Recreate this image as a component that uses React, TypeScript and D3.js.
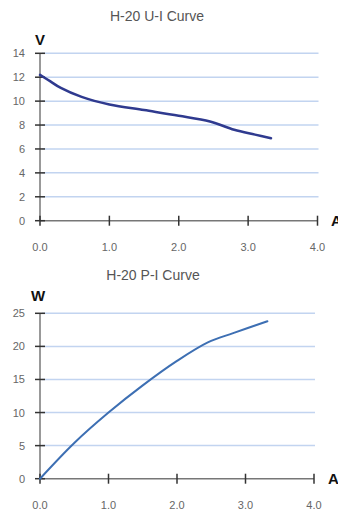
import React from "react";
import * as d3 from "d3";

const currentA = [0, 0.15, 0.3, 0.6, 1.0, 1.5, 2.0, 2.45, 2.8, 3.1, 3.33];
const voltageV = [12.2, 11.65, 11.1, 10.35, 9.72, 9.25, 8.78, 8.3, 7.6, 7.2, 6.9];

const powerCurrentA = [0, 0.5, 1.0, 1.5, 2.0, 2.45, 2.82, 3.32];
const powerW = [0, 5.4, 10.0, 14.1, 17.8, 20.6, 22.0, 23.8];

const xTicks = [0, 1, 2, 3, 4];
const uTicks = [0, 2, 4, 6, 8, 10, 12, 14];
const pTicks = [0, 5, 10, 15, 20, 25];

type PanelProps = {
  title: string;
  titleX: number;
  titleY: number;
  yLabel: string;
  yLabelX: number;
  yLabelY: number;
  aX: number;
  xs: number[];
  ys: number[];
  yMax: number;
  yTicks: number[];
  x0: number;
  x1: number;
  y0: number;
  y1: number;
  color: string;
  width: number;
};

function Panel(p: PanelProps) {
  const x = d3.scaleLinear().domain([0, 4]).range([p.x0, p.x1]);
  const y = d3.scaleLinear().domain([0, p.yMax]).range([p.y0, p.y1]);
  const line = d3
    .line<number>()
    .x((_, i) => x(p.xs[i]))
    .y((d) => y(d))
    .curve(d3.curveCatmullRom.alpha(0.5));
  const font = "Liberation Sans, Arial, sans-serif";
  return (
    <g>
      <text x={p.titleX} y={p.titleY} textAnchor="middle" dominantBaseline="central" fontFamily={font} fontSize={14} fill="#555">
        {p.title}
      </text>
      <text x={p.yLabelX} y={p.yLabelY} textAnchor="middle" dominantBaseline="central" fontFamily={font} fontSize={15} fontWeight="bold" fill="#111">
        {p.yLabel}
      </text>
      <text x={p.aX} y={p.y0} textAnchor="start" dominantBaseline="central" fontFamily={font} fontSize={15} fontWeight="bold" fill="#111">
        A
      </text>
      {p.yTicks.filter((t) => t > 0).map((t) => (
        <line key={"g" + t} x1={p.x0 + 2} x2={p.x1 + 1} y1={y(t)} y2={y(t)} stroke="#c2d4f0" strokeWidth={1.5} />
      ))}
      <line x1={p.x0} x2={p.x0} y1={p.y0} y2={y(p.yMax)} stroke="#777" strokeWidth={1.5} />
      <line x1={p.x0} x2={p.x1} y1={p.y0} y2={p.y0} stroke="#777" strokeWidth={1.5} />
      {p.yTicks.map((t) => (
        <g key={"y" + t}>
          <line x1={p.x0 - 5} x2={p.x0 + 5} y1={y(t)} y2={y(t)} stroke="#333" strokeWidth={1.5} />
          <text x={25} y={y(t)} textAnchor="end" dominantBaseline="central" fontFamily={font} fontSize={11} fill="#666">
            {t}
          </text>
        </g>
      ))}
      {xTicks.map((t) => (
        <g key={"x" + t}>
          <line x1={x(t)} x2={x(t)} y1={p.y0 - 5} y2={p.y0 + 5} stroke="#333" strokeWidth={1.5} />
          <text x={x(t)} y={p.y0 + 26} textAnchor="middle" dominantBaseline="central" fontFamily={font} fontSize={11} fill="#666">
            {t.toFixed(1)}
          </text>
        </g>
      ))}
      <path d={line(p.ys) || ""} fill="none" stroke={p.color} strokeWidth={p.width} strokeLinecap="round" />
    </g>
  );
}

export default function App() {
  return (
    <svg width={338} height={510} style={{ position: "absolute", left: 0, top: 0, background: "#fff" }}>
      <Panel
        title="H-20 U-I Curve"
        titleX={157}
        titleY={16}
        yLabel="V"
        yLabelX={40}
        yLabelY={39}
        aX={331}
        xs={currentA}
        ys={voltageV}
        yMax={14}
        yTicks={uTicks}
        x0={40}
        x1={317.5}
        y0={220.7}
        y1={53.3}
        color="#2f3a8f"
        width={2.5}
      />
      <Panel
        title="H-20 P-I Curve"
        titleX={153}
        titleY={275}
        yLabel="W"
        yLabelX={38}
        yLabelY={295}
        aX={328}
        xs={powerCurrentA}
        ys={powerW}
        yMax={25}
        yTicks={pTicks}
        x0={40}
        x1={314}
        y0={478.7}
        y1={313.3}
        color="#3d6fb3"
        width={2}
      />
    </svg>
  );
}
